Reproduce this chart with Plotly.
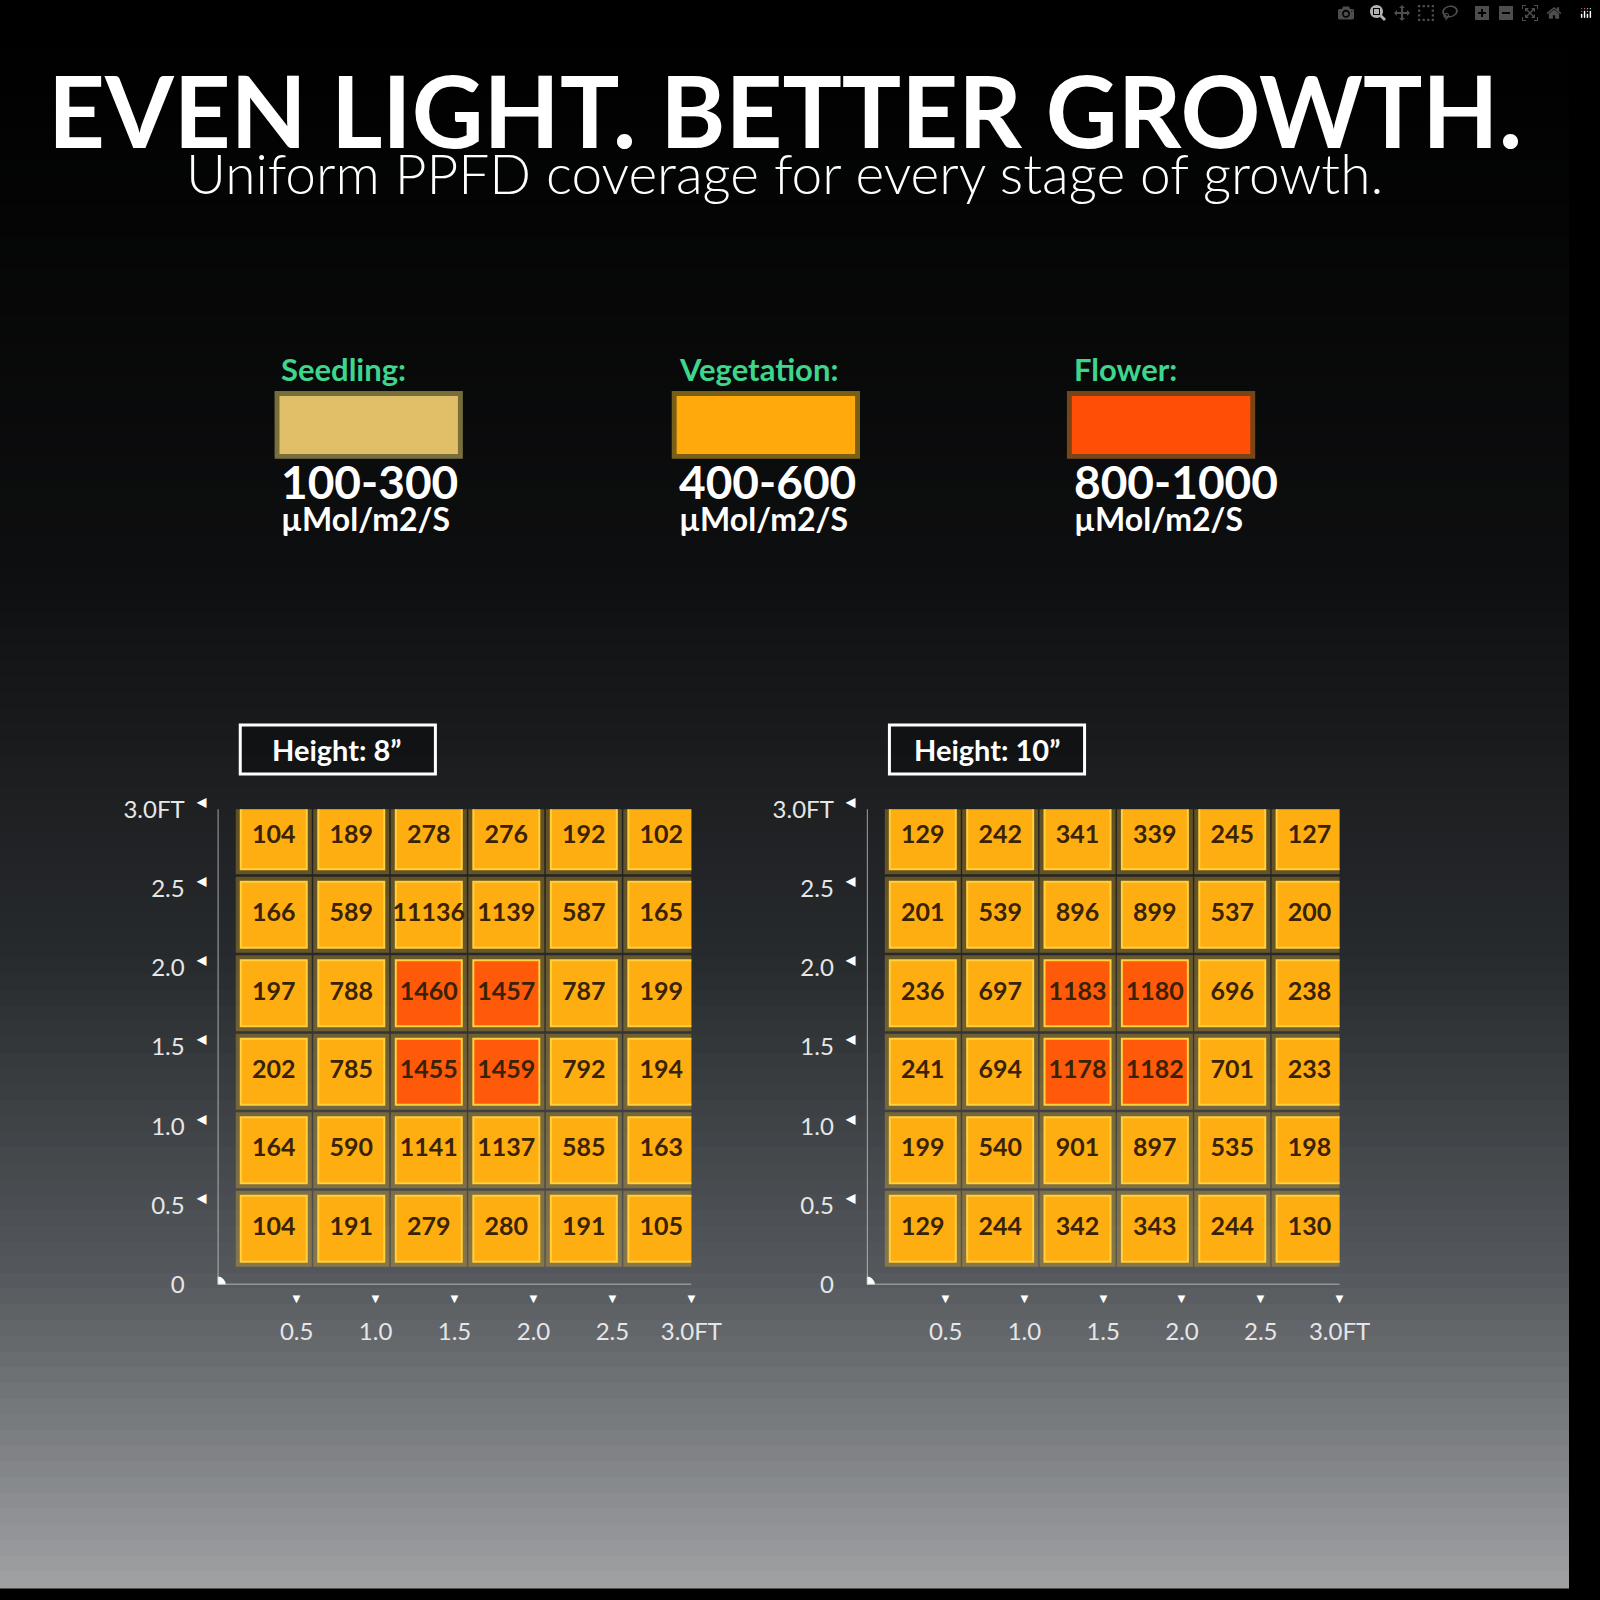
import plotly.graph_objects as go

values_8 = [[104,189,278,276,192,102],
            [166,589,11136,1139,587,165],
            [197,788,1460,1457,787,199],
            [202,785,1455,1459,792,194],
            [164,590,1141,1137,585,163],
            [104,191,279,280,191,105]]
values_10 = [[129,242,341,339,245,127],
             [201,539,896,899,537,200],
             [236,697,1183,1180,696,238],
             [241,694,1178,1182,701,233],
             [199,540,901,897,535,198],
             [129,244,342,343,244,130]]
hot_8 = [(2,2),(2,3),(3,2),(3,3)]
hot_10 = [(2,2),(2,3),(3,2),(3,3)]
tick_vals = [0.5,1.0,1.5,2.0,2.5,3.0]
x_tick_text = ["0.5","1.0","1.5","2.0","2.5","3.0FT"]
y_tick_text = ["0","0.5","1.0","1.5","2.0","2.5","3.0FT"]
stages = ["Seedling:","Vegetation:","Flower:"]
ranges = ["100-300","400-600","800-1000"]
stage_colors = ["#E1BE68","#FFA90C","#FF4E05"]
glow_colors = ["rgba(255,230,120,0.45)","rgba(255,200,40,0.45)","rgba(255,140,40,0.45)"]
heights = ["Height: 8”","Height: 10”"]

W = 1600
def P(px): return 1 - px/W

fig = go.Figure()
shapes = []
N = 100
def lerp(a,b,t): return tuple(int(a[i]+(b[i]-a[i])*t) for i in range(3))
stops = [(0,(0,0,0)),(0.35,(14,15,16)),(0.6,(40,43,46)),(0.8,(85,89,93)),(1.0,(160,162,164))]
for i in range(N):
    t = (i+0.5)/N
    for j in range(len(stops)-1):
        if stops[j][0] <= t <= stops[j+1][0]:
            c = lerp(stops[j][1], stops[j+1][1], (t-stops[j][0])/(stops[j+1][0]-stops[j][0]))
    shapes.append(dict(type="rect", xref="paper", yref="paper", x0=0, x1=1,
                       y0=1-(i+1)/N-0.001, y1=1-i/N, fillcolor="rgb(%d,%d,%d)" % c,
                       line_width=0, layer="below"))

annotations = []
def ann(text, x, y, size, color="white", weight=900, xanchor="center", xref="paper", yref="paper", **kw):
    annotations.append(dict(text=text, x=x, y=y, xref=xref, yref=yref, xanchor=xanchor, yanchor="middle",
                            showarrow=False, font=dict(family="Lato", size=size, color=color, weight=weight), **kw))

ann("<b>EVEN LIGHT. BETTER GROWTH.</b>", 0.5, P(95), 99)
ann("Uniform PPFD coverage for every stage of growth.", 0.5, P(160), 55, weight=300)

box_x = [285, 690, 1093]
for i in range(3):
    x0 = box_x[i]
    shapes.append(dict(type="rect", xref="paper", yref="paper", x0=(x0-5)/W, x1=(x0+187)/W,
                       y0=P(451), y1=P(382), fillcolor=glow_colors[i], line_width=0, layer="below"))
    shapes.append(dict(type="rect", xref="paper", yref="paper", x0=x0/W, x1=(x0+182)/W,
                       y0=P(446), y1=P(387), fillcolor=stage_colors[i], line_width=0, layer="below"))
    ann("<b>"+stages[i]+"</b>", x0/W, P(360), 31, color="#3DD68C", xanchor="left")
    ann("<b>"+ranges[i]+"</b>", x0/W, P(474), 46, xanchor="left")
    ann("<b>µMol/m2/S</b>", x0/W, P(512), 32, xanchor="left")

origins = [222, 884]
for k, (vals, hot) in enumerate([(values_8, hot_8), (values_10, hot_10)]):
    xa = "x" if k == 0 else "x2"
    ya = "y" if k == 0 else "y2"
    o = origins[k]
    shapes.append(dict(type="rect", xref="paper", yref="paper", x0=(o+23)/W, x1=(o+222)/W,
                       y0=P(772), y1=P(722), line=dict(color="white", width=3), fillcolor="rgba(0,0,0,0.3)"))
    ann("<b>"+heights[k]+"</b>", (o+122)/W, P(747), 29)
    xs, ys, ts, cs = [], [], [], []
    for r in range(6):
        for c in range(6):
            xs.append(0.355 + 0.491*c)
            ys.append(2.83 - 0.4955*r)
            ts.append("<b>%d</b>" % vals[r][c])
            cs.append("#FF5A0A" if (r, c) in hot else "#FFAE12")
    fig.add_trace(go.Scatter(x=xs, y=ys, mode="markers", xaxis=xa, yaxis=ya, hoverinfo="skip",
                             marker=dict(symbol="square", size=76, color="#FFC020", opacity=0.3, line_width=0)))
    fig.add_trace(go.Scatter(x=xs, y=ys, mode="markers+text", xaxis=xa, yaxis=ya, text=ts,
                             textfont=dict(family="Lato", size=25, color="#3a2205", weight=900),
                             marker=dict(symbol="square", size=66, color=cs,
                                         line=dict(color="#FFD040", width=2))))
    shapes.append(dict(type="line", xref=xa, yref=ya, x0=0, y0=0, x1=0, y1=3.05, line=dict(color="#cfcfcf", width=1.5)))
    shapes.append(dict(type="line", xref=xa, yref=ya, x0=0, y0=0, x1=3.03, y1=0, line=dict(color="#cfcfcf", width=1.5)))
    fig.add_trace(go.Scatter(x=[0], y=[0], mode="markers", xaxis=xa, yaxis=ya, hoverinfo="skip",
                             marker=dict(size=16, color="white")))
    for v in tick_vals:
        ann("▼", v, P(1306), 13, xref=xa)
        ann("◀", (o-17)/W, v, 12, yref=ya, yshift=8)

ax = dict(range=[0, 3.0], showgrid=False, zeroline=False, showline=False, tickvals=tick_vals,
          ticktext=x_tick_text, ticks="", ticklabelstandoff=30,
          tickfont=dict(family="Lato", size=24, color="#e6e6e6"))
ay = dict(range=[0, 3.0], showgrid=False, zeroline=False, showline=False,
          tickvals=[0]+tick_vals, ticktext=y_tick_text, ticks="", ticklabelstandoff=32,
          tickfont=dict(family="Lato", size=24, color="#e6e6e6"))
fig.update_layout(
    width=1600, height=1600, margin=dict(l=0, r=0, t=0, b=0),
    paper_bgcolor="black", plot_bgcolor="rgba(0,0,0,0)", showlegend=False,
    xaxis=dict(ax, domain=[222/W, 705/W], anchor="y"),
    yaxis=dict(ay, domain=[P(1292), P(808)], anchor="x"),
    xaxis2=dict(ax, domain=[884/W, 1366/W], anchor="y2"),
    yaxis2=dict(ay, domain=[P(1292), P(808)], anchor="x2"),
    shapes=shapes, annotations=annotations,
)
fig.write_html("out.html", post_script="document.body.style.margin='0';document.body.style.overflow='hidden';")
